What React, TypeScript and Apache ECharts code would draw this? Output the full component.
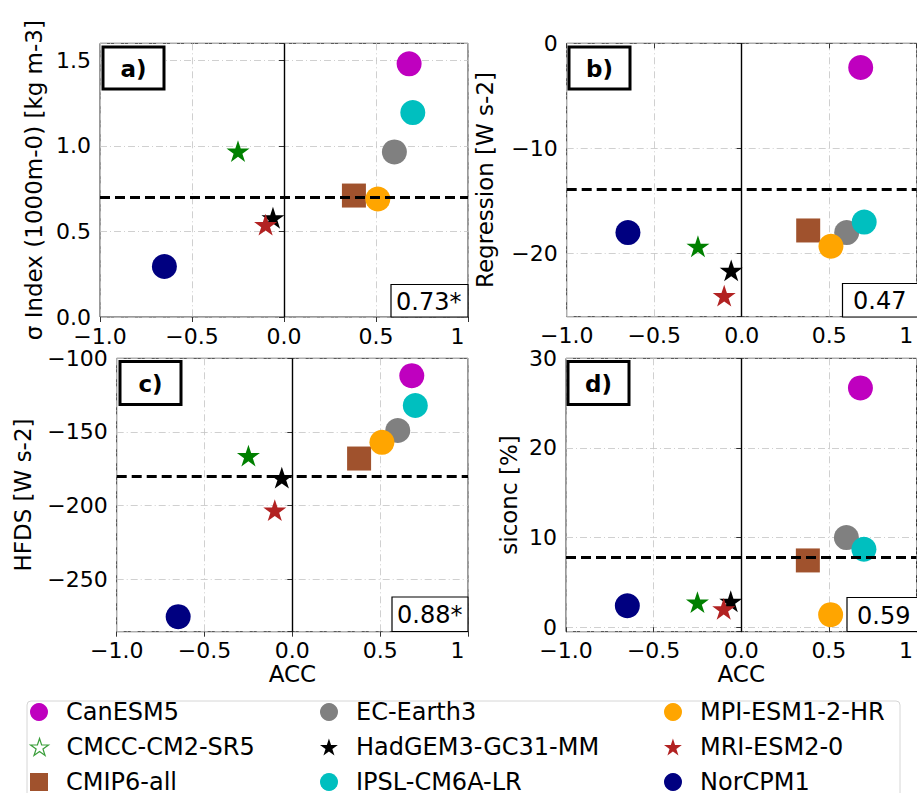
import React, { useEffect, useRef } from 'react';
import * as echarts from 'echarts';

// ---------- data ----------
const models = ['CanESM5', 'CMCC-CM2-SR5', 'CMIP6-all', 'EC-Earth3', 'HadGEM3-GC31-MM', 'IPSL-CM6A-LR', 'MPI-ESM1-2-HR', 'MRI-ESM2-0', 'NorCPM1'];
const modelColors = ['#bf00bf', '#008000', '#a0522d', '#808080', '#000000', '#00bfbf', '#ffa500', '#b22222', '#000080'];
const modelShapes = ['circle', 'star', 'square', 'circle', 'star', 'circle', 'circle', 'star', 'circle'];
const accValues = [0.68, -0.25, 0.38, 0.6, -0.06, 0.7, 0.51, -0.1, -0.65];
const sigmaIndex = [1.48, 0.97, 0.71, 0.965, 0.58, 1.195, 0.69, 0.54, 0.295];
const regression = [-2.3, -19.3, -17.8, -18.0, -21.6, -17.0, -19.3, -24.0, -18.0];
const hfds = [-111.8, -166, -168, -149, -181, -132, -157, -203, -275.3];
const siconc = [26.7, 2.8, 7.45, 10.0, 2.9, 8.7, 1.4, 2.05, 2.4];
const thresholds = [0.7, -13.9, -180, 7.8];
const panelLabels = ['a)', 'b)', 'c)', 'd)'];
const corrLabels = ['0.73*', '0.47', '0.88*', '0.59'];
const yNames = ['σ Index (1000m-0) [kg m-3]', 'Regression [W s-2]', 'HFDS [W s-2]', 'siconc [%]'];
const yMin = [0, -26, -285.5, -0.5];
const yMax = [1.6, 0, -100, 30];
const yStep = [0.5, 10, 50, 10];
const yDecimals = [1, 0, 0, 0];
const xMin = -1;
const xMax = 1;
const xStep = 0.5;
const xName = 'ACC';
const legendColumns = [
  ['CanESM5', 'CMCC-CM2-SR5', 'CMIP6-all'],
  ['EC-Earth3', 'HadGEM3-GC31-MM', 'IPSL-CM6A-LR'],
  ['MPI-ESM1-2-HR', 'MRI-ESM2-0', 'NorCPM1'],
];
const drawOrder = [0, 3, 2, 6, 5, 4, 7, 1, 8];

const FONT = 'DejaVu Sans';

function starPath() {
  const pts: string[] = [];
  for (let k = 0; k < 10; k++) {
    const a = -Math.PI / 2 + (k * Math.PI) / 5;
    const r = k % 2 === 0 ? 50 : 19.1;
    pts.push(`${(50 + r * Math.cos(a)).toFixed(2)},${(50 + r * Math.sin(a)).toFixed(2)}`);
  }
  return 'path://M' + pts.join('L') + 'Z';
}
const STAR = starPath();
const SQUARE = 'path://M0,0L10,0L10,10L0,10Z';

function symbolFor(shape: string) {
  if (shape === 'star') return STAR;
  if (shape === 'square') return SQUARE;
  return 'circle';
}
function sizeFor(shape: string) {
  if (shape === 'star') return 23;
  if (shape === 'square') return 24;
  return 25;
}

export default function App() {
  const ref = useRef<HTMLDivElement>(null);

  useEffect(() => {
    if (!ref.current) return;
    const chart = echarts.init(ref.current, undefined, { renderer: 'svg' });

    const panelValues = [sigmaIndex, regression, hfds, siconc];
    const grids = [
      { left: 100, top: 43.3, width: 368, height: 273.7 },
      { left: 566.7, top: 43.3, width: 350, height: 273.4 },
      { left: 116.7, top: 358.3, width: 351.3, height: 273.4 },
      { left: 566, top: 358.3, width: 350.5, height: 273.4 },
    ].map((g) => ({ ...g, show: true, borderColor: '#333', borderWidth: 1, backgroundColor: 'transparent', containLabel: false }));
    const yNameGaps = [55, 70, 82, 46];

    const gridLine = { show: true, lineStyle: { color: '#c4c4c4', width: 0.8, type: [7, 3, 1, 3] } };

    const xAxes = grids.map((_, p) => ({
      type: 'value',
      gridIndex: p,
      min: xMin,
      max: xMax,
      interval: xStep,
      name: p >= 2 ? xName : '',
      nameLocation: 'middle',
      nameGap: 29,
      nameTextStyle: { fontSize: 23, color: '#000', fontFamily: FONT },
      axisLine: { show: false },
      axisTick: { show: true, inside: false, length: 5, lineStyle: { color: '#333', width: 1 } },
      axisLabel: {
        margin: 8,
        fontSize: 22,
        color: '#000',
        fontFamily: FONT,
        formatter: (v: number) => (Math.abs(v - 1) < 1e-9 ? '{one|1}' : v.toFixed(1).replace('-', '\u2212')),
        rich: { one: { fontSize: 22, color: '#000', fontFamily: FONT, padding: [0, 21, 0, 0] } },
      },
      splitLine: gridLine,
    }));

    const yAxes = grids.map((_, p) => ({
      type: 'value',
      gridIndex: p,
      min: yMin[p],
      max: yMax[p],
      minInterval: yStep[p],
      maxInterval: yStep[p],
      splitNumber: 3,
      name: yNames[p],
      nameLocation: 'middle',
      nameGap: yNameGaps[p],
      nameTextStyle: { fontSize: 23, color: '#000', fontFamily: FONT },
      axisLine: { show: false },
      axisTick: { show: true, inside: false, length: 5, lineStyle: { color: '#333', width: 1 } },
      axisLabel: {
        margin: 9,
        fontSize: 22,
        color: '#000',
        fontFamily: FONT,
        formatter: (v: number) => {
          const k = v / yStep[p];
          if (Math.abs(k - Math.round(k)) > 1e-6) return '';
          const s = yDecimals[p] ? v.toFixed(yDecimals[p]) : String(Math.round(v));
          return s === '-0' ? '0' : s.replace('-', '\u2212');
        },
      },
      splitLine: gridLine,
    }));

    const series: any[] = [];
    for (let p = 0; p < 4; p++) {
      series.push({
        type: 'scatter',
        name: '__vline' + p,
        xAxisIndex: p,
        yAxisIndex: p,
        data: [],
        silent: true,
        z: 1,
        markLine: {
          silent: true,
          symbol: ['none', 'none'],
          label: { show: false },
          animation: false,
          data: [{ xAxis: 0, lineStyle: { color: '#000', width: 1.4, type: 'solid' } }],
        },
      });
      for (const i of drawOrder) {
        series.push({
          type: 'scatter',
          name: models[i],
          xAxisIndex: p,
          yAxisIndex: p,
          data: [[accValues[i], panelValues[p][i]]],
          symbol: symbolFor(modelShapes[i]),
          symbolSize: sizeFor(modelShapes[i]),
          symbolKeepAspect: true,
          itemStyle: { color: modelColors[i], opacity: 1 },
          silent: true,
          z: 3,
        });
      }
      series.push({
        type: 'scatter',
        name: '__hline' + p,
        xAxisIndex: p,
        yAxisIndex: p,
        data: [],
        silent: true,
        z: 8,
        markLine: {
          silent: true,
          symbol: ['none', 'none'],
          label: { show: false },
          animation: false,
          data: [{ yAxis: thresholds[p], lineStyle: { color: '#000', width: 3, type: [10, 5] } }],
        },
      });
    }

    // one legend component per entry, laid out in three columns
    const legendLefts = [30, 320, 664];
    const legendTops = [700, 735, 770];
    const legends: any[] = [];
    legendColumns.forEach((col, c) => {
      col.forEach((name, r) => {
        const i = models.indexOf(name);
        const item: any = { name, icon: symbolFor(modelShapes[i]) };
        if (name === 'CMCC-CM2-SR5') {
          item.itemStyle = { color: 'rgba(255,255,255,0)', borderColor: '#3a9e3a', borderWidth: 1.2 };
        }
        legends.push({
          orient: 'horizontal',
          left: legendLefts[c],
          top: legendTops[r],
          padding: 0,
          itemWidth: 44,
          itemHeight: modelShapes[i] === 'star' ? 17 : 18,
          selectedMode: false,
          symbolKeepAspect: true,
          textStyle: { fontSize: 24, color: '#000', fontFamily: FONT },
          data: [item],
        });
      });
    });

    const labelBoxes = [
      { x: 103, y: 47, w: 61, h: 42 },
      { x: 569, y: 47, w: 61, h: 42 },
      { x: 120, y: 361.5, w: 61, h: 43 },
      { x: 568, y: 361.5, w: 61, h: 43 },
    ];
    const corrBoxes = [
      { x: 391, y: 284.5, w: 77, h: 32.5, tx: 396 },
      { x: 842.5, y: 283.5, w: 90, h: 33.5, tx: 853 },
      { x: 392, y: 597, w: 76, h: 34.5, tx: 397 },
      { x: 847, y: 597.5, w: 90, h: 34, tx: 857 },
    ];

    const graphic: any[] = [
      {
        type: 'rect',
        shape: { x: 27, y: 701, width: 873, height: 130, r: 4 },
        style: { fill: 'rgba(255,255,255,0)', stroke: '#d6d6d6', lineWidth: 1 },
        z: 0,
        silent: true,
      },
    ];
    labelBoxes.forEach((b, p) => {
      graphic.push({
        type: 'rect',
        shape: { x: b.x, y: b.y, width: b.w, height: b.h },
        style: { fill: '#fff', stroke: '#000', lineWidth: 3 },
        z: 100,
        silent: true,
      });
      graphic.push({
        type: 'text',
        x: b.x + b.w / 2,
        y: b.y + b.h / 2 + 1,
        style: { text: panelLabels[p], fontSize: 23, fontWeight: 'bold', fontFamily: FONT, fill: '#000', align: 'center', verticalAlign: 'middle' },
        z: 101,
        silent: true,
      });
    });
    corrBoxes.forEach((b, p) => {
      graphic.push({
        type: 'rect',
        shape: { x: b.x, y: b.y, width: b.w, height: b.h },
        style: { fill: '#fff', stroke: '#000', lineWidth: 1.2 },
        z: 100,
        silent: true,
      });
      graphic.push({
        type: 'text',
        x: b.tx,
        y: b.y + b.h / 2 + 1,
        style: { text: corrLabels[p], fontSize: 24, fontFamily: FONT, fill: '#000', align: 'left', verticalAlign: 'middle' },
        z: 101,
        silent: true,
      });
    });

    chart.setOption({
      animation: false,
      backgroundColor: '#fff',
      textStyle: { fontFamily: FONT, color: '#000' },
      grid: grids,
      xAxis: xAxes,
      yAxis: yAxes,
      series,
      legend: legends,
      graphic,
    });

    return () => chart.dispose();
  }, []);

  return (
    <div
      ref={ref}
      style={{ position: 'absolute', left: 0, top: 0, width: 917, height: 793, background: '#fff' }}
    />
  );
}
